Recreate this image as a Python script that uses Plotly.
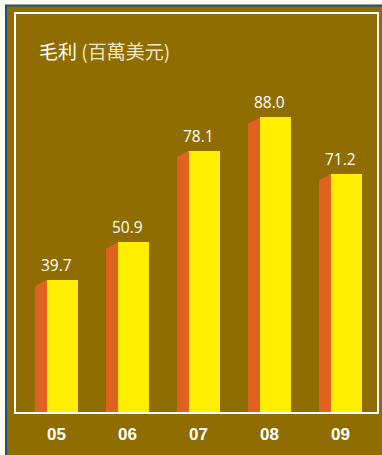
import plotly.graph_objects as go

# ---- data ----
years = ["05", "06", "07", "08", "09"]
gross_profit = [39.7, 50.9, 78.1, 88.0, 71.2]
title_main = "毛利"
title_unit = "(百萬美元)"

# ---- styles ----
W, H = 382, 455
ML, MR, MT, MB = 15, 4, 13, 42
PW, PH = W - ML - MR, H - MT - MB
Y_MAX = PH / 3.36          # px per unit ~3.36
PX_X = 71.0                # px per category
X0 = -(56.5 - ML) / PX_X
X1 = X0 + PW / PX_X

OLIVE = "#8F6D00"
YELLOW = "#FFEE00"
ORANGE = "#E0621F"
BLUE = "#17518C"
PAGE = "#FFFCEE"

full_w = 43 / PX_X
side_w = 12 / PX_X
front_w = full_w - side_w
slant = 6.5 / (PH / Y_MAX)

idx = list(range(len(years)))

fig = go.Figure()

# side faces (pseudo 3D)
sx, sy = [], []
for i, v in zip(idx, gross_profit):
    left = i - full_w / 2
    right = left + side_w
    sx += [left, left, right, right, left, None]
    sy += [0, v - slant, v, 0, 0, None]
fig.add_trace(go.Scatter(x=sx, y=sy, mode="lines", fill="toself",
                         fillcolor=ORANGE, line=dict(width=0, color=ORANGE),
                         hoverinfo="skip", showlegend=False))

# front faces
fig.add_trace(go.Bar(x=idx, y=gross_profit, width=front_w,
                     offset=-full_w / 2 + side_w,
                     marker=dict(color=YELLOW, line=dict(width=0)),
                     showlegend=False))

# value labels
for i, v in zip(idx, gross_profit):
    fig.add_annotation(x=i, y=v, text=f"{v:.1f}", showarrow=False,
                       xanchor="center", yanchor="middle", yshift=15,
                       font=dict(family="Open Sans", size=15.5, color="white"))

# title
fig.add_annotation(xref="paper", yref="paper",
                   x=(37 - ML) / PW, y=(MT + PH - 50) / PH,
                   xanchor="left", yanchor="middle", showarrow=False,
                   text=f"{title_main} <span style='color:#EFE7C6'>{title_unit}</span>",
                   font=dict(family="Noto Sans CJK TC", size=19, color="white"))

def px2paper_x(px):
    return (px - ML) / PW

def px2paper_y(py):
    return (MT + PH - py) / PH

shapes = [
    # olive panel with blue border
    dict(type="rect", xref="paper", yref="paper", layer="below",
         x0=px2paper_x(6), x1=px2paper_x(W + 10),
         y0=px2paper_y(H + 10), y1=px2paper_y(5.5),
         fillcolor=OLIVE, line=dict(color=BLUE, width=2)),
    # inner white frame
    dict(type="rect", xref="paper", yref="paper", layer="above",
         x0=0, x1=1, y0=0, y1=1,
         line=dict(color="white", width=2), fillcolor="rgba(0,0,0,0)"),
]

fig.update_layout(
    width=W, height=H,
    margin=dict(l=ML, r=MR, t=MT, b=MB),
    paper_bgcolor=PAGE,
    plot_bgcolor=OLIVE,
    shapes=shapes,
    bargap=0,
    xaxis=dict(range=[X0, X1], tickvals=idx, ticktext=years,
               showgrid=False, zeroline=False, showline=False, ticks="",
               ticklabelstandoff=9,
               tickfont=dict(family="Liberation Sans", size=17, color="white",
                             weight="bold")),
    yaxis=dict(range=[0, Y_MAX], visible=False, showgrid=False),
)

fig.write_html("out.html")
